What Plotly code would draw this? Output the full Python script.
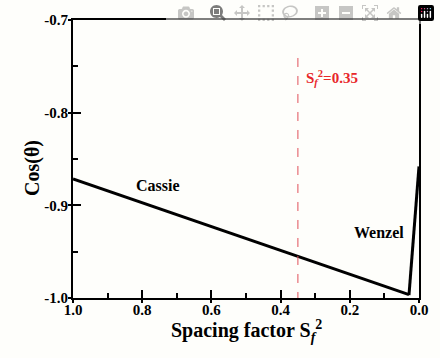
import plotly.graph_objects as go

cassie_s = [1.0, 0.029]
cassie_cos = [-0.8716, -0.9963]
wenzel_s = [0.029, 0.0]
wenzel_cos = [-0.9968, -0.858]
marker_s = 0.35
marker_y = [-0.741, -1.0]
x_ticks = [1.0, 0.8, 0.6, 0.4, 0.2, 0.0]
y_ticks = [-1.0, -0.9, -0.8, -0.7]
y_labels = ["-1.0", "-0.9", "-0.8", "-0.7"]

FONT = "Liberation Serif"
fig = go.Figure()
fig.add_trace(go.Scatter(x=cassie_s, y=cassie_cos, mode="lines",
                         line=dict(color="black", width=3), showlegend=False))
fig.add_trace(go.Scatter(x=wenzel_s, y=wenzel_cos, mode="lines",
                         line=dict(color="black", width=3), showlegend=False))
fig.add_trace(go.Scatter(x=[marker_s, marker_s], y=marker_y, mode="lines",
                         line=dict(color="#e0505a", width=1, dash="dash"), showlegend=False))
fig.add_trace(go.Scatter(x=[None], y=[None], xaxis="x2", yaxis="y2", showlegend=False))

tickfont = dict(family=FONT, size=15, color="black", weight="bold")
common = dict(showline=True, linecolor="black", linewidth=2, mirror=True,
              showgrid=False, zeroline=False, tickcolor="black", tickwidth=2)
fig.update_layout(
    width=440, height=358,
    margin=dict(l=73, r=13, t=13, b=60),
    paper_bgcolor="#fefefb", plot_bgcolor="#fefefb",
    xaxis=dict(range=[1.0, 0.0], tick0=0, dtick=0.2, tickformat=".1f",
               ticks="inside", ticklen=8, tickfont=tickfont, ticklabelstandoff=-3,
               minor=dict(dtick=0.1, ticks="inside", ticklen=5, tickwidth=2, tickcolor="black"),
               **common),
    yaxis=dict(range=[-1.0, -0.7], tickvals=y_ticks, ticktext=y_labels,
               ticks="inside", ticklen=8, tickfont=tickfont,
               minor=dict(dtick=0.05, tick0=-1.0, ticks="inside", ticklen=5, tickwidth=2,
                          tickcolor="black"),
               **common),
    xaxis2=dict(overlaying="x", range=[1.0, 0.0], side="bottom", anchor="y",
                tickvals=x_ticks, showticklabels=False,
                ticks="outside", ticklen=4, tickwidth=2, tickcolor="black",
                showgrid=False, zeroline=False, showline=False),
    yaxis2=dict(overlaying="y", range=[-1.0, -0.7], side="left", anchor="x",
                tickvals=y_ticks, showticklabels=False,
                ticks="outside", ticklen=4, tickwidth=2, tickcolor="black",
                showgrid=False, zeroline=False, showline=False),
)

# axis titles
fig.add_annotation(xref="paper", yref="paper", x=0.5, y=-0.118, yanchor="middle",
                   text="<b>Spacing factor S<sub><i>f</i></sub><sup>2</sup></b>", showarrow=False,
                   font=dict(family=FONT, size=20, color="black"))
fig.add_annotation(xref="paper", yref="paper", x=-0.158, y=0.467, textangle=-90,
                   text="<b>Cos(θ)</b>", showarrow=False,
                   font=dict(family=FONT, size=20, color="black"))

fig.add_annotation(x=0.754, y=-0.879, text="<b>Cassie</b>", showarrow=False,
                   font=dict(family=FONT, size=16, color="black"))
fig.add_annotation(x=0.116, y=-0.9295, text="<b>Wenzel</b>", showarrow=False,
                   font=dict(family=FONT, size=16, color="black"))
fig.add_annotation(x=0.333, y=-0.763, xanchor="left",
                   text="<b>S<sub><i>f</i></sub><sup>2</sup>=0.35</b>", showarrow=False,
                   font=dict(family=FONT, size=15, color="#e8262a"))

fig.write_html("out.html", post_script="document.body.style.margin='0';")
